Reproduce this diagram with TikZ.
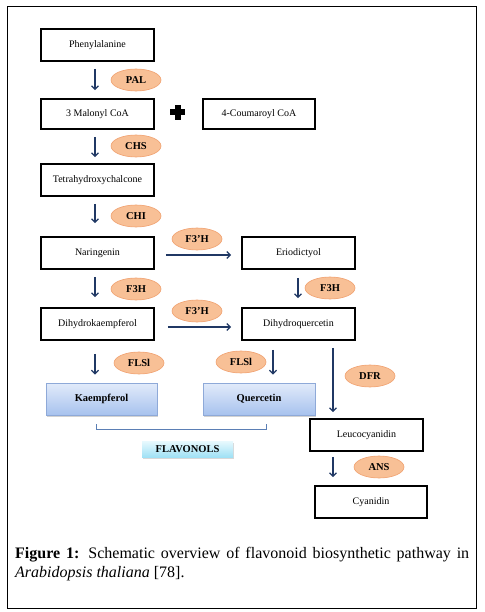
\documentclass[tikz,border=0pt]{standalone}
\usepackage{fontspec}
\setmainfont{Liberation Serif}
\usetikzlibrary{shapes.geometric,arrows.meta,shadows}
\definecolor{navy}{RGB}{32,56,100}
\definecolor{peach}{RGB}{248,192,150}
\definecolor{peachline}{RGB}{240,160,110}
\definecolor{kbtop}{RGB}{226,235,250}
\definecolor{kbbot}{RGB}{167,194,238}
\definecolor{kbline}{RGB}{142,169,216}
\definecolor{ftop}{RGB}{232,249,254}
\definecolor{fbot}{RGB}{160,225,245}
\definecolor{brk}{RGB}{91,127,181}
\tikzset{
  x=1pt, y=-1pt,
  box/.style={draw=black, line width=1.6pt, minimum width=113pt, minimum height=32pt, inner sep=0pt, font=\fontsize{10}{12}\selectfont},
  enz/.style={ellipse, draw=peachline, line width=0.6pt, fill=peach, minimum width=50pt, minimum height=22pt, inner sep=0pt, font=\fontsize{10.5}{12}\selectfont\bfseries},
  prod/.style={draw=kbline, line width=0.8pt, top color=kbtop, bottom color=kbbot, minimum width=111pt, minimum height=32pt, inner sep=0pt, font=\fontsize{10.5}{12}\selectfont\bfseries, drop shadow={shadow xshift=1pt, shadow yshift=-1.5pt, fill=black!35}},
  arr/.style={draw=navy, line width=1.5pt, -{Straight Barb[length=3.5pt,width=7pt,line width=1.3pt]}},
}
\begin{document}
\begin{tikzpicture}
\useasboundingbox (0,0) rectangle (484,612);
\draw[line width=1pt] (7,7) rectangle (476,608);

% boxes
\node[box] (phe) at (97.5,45) {Phenylalanine};
\node[box, minimum height=30pt] (mal) at (97.5,114) {3 Malonyl CoA};
\node[box, minimum width=112pt, minimum height=30pt, line width=1.2pt] (cou) at (259,114) {4-Coumaroyl CoA};
\node[box] (tet) at (97.5,180) {Tetrahydroxychalcone};
\node[box] (nar) at (97.5,253) {Naringenin};
\node[box] (eri) at (298.5,253) {Eriodictyol};
\node[box] (dhk) at (97.5,324) {Dihydrokaempferol};
\node[box] (dhq) at (298.5,324) {Dihydroquercetin};
\node[prod] (kae) at (101.5,399) {Kaempferol};
\node[prod, minimum width=112pt] (que) at (259,399) {Quercetin};
\node[box] (leu) at (366.5,435) {Leucocyanidin};
\node[box, minimum width=112pt] (cya) at (371,502) {Cyanidin};
\node[draw=none, top color=ftop, bottom color=fbot, minimum width=91pt, minimum height=16pt, inner sep=0pt, font=\fontsize{10.5}{12}\selectfont\bfseries, drop shadow={shadow xshift=1pt, shadow yshift=-1.5pt, fill=black!30}] (flav) at (187.5,449) {FLAVONOLS};

% plus sign
\fill (170,109.5) rectangle (185,115.5);
\fill (174.5,105) rectangle (180.5,120);

% enzymes
\node[enz] (pal) at (136,80) {PAL};
\node[enz] (chs) at (136,146) {CHS};
\node[enz] (chi) at (136,216) {CHI};
\node[enz] (f3ph1) at (197,239) {F3'H};
\node[enz] (f3hl) at (136,289) {F3H};
\node[enz] (f3hr) at (330,288) {F3H};
\node[enz] (f3ph2) at (197,311) {F3'H};
\node[enz] (flsl) at (139,363) {FLSl};
\node[enz] (flsr) at (241,362) {FLSl};
\node[enz] (dfr) at (370,376) {DFR};
\node[enz] (ans) at (379,467) {ANS};

% arrows
\draw[arr, shorten <=7pt, shorten >=8pt] ([xshift=-2.5pt]phe.south) -- ([xshift=-2.5pt]mal.north);
\draw[arr, shorten <=7pt, shorten >=6pt] ([xshift=-2.5pt]mal.south) -- ([xshift=-2.5pt]tet.north);
\draw[arr, shorten <=7pt, shorten >=13pt] ([xshift=-2.5pt]tet.south) -- ([xshift=-2.5pt]nar.north);
\draw[arr, shorten <=7pt, shorten >=10pt] ([xshift=-2.5pt]nar.south) -- ([xshift=-2.5pt]dhk.north);
\draw[arr, shorten <=11pt, shorten >=10pt] ([yshift=-2pt]nar.east) -- ([yshift=-2pt]eri.west);
\draw[arr, shorten <=13pt, shorten >=10pt] ([yshift=-3pt]dhk.east) -- ([yshift=-3pt]dhq.west);
\draw[arr, shorten <=8pt, shorten >=9pt] ([xshift=-0.5pt]eri.south) -- ([xshift=-0.5pt]dhq.north);
\draw[arr, shorten <=13pt, shorten >=8pt] ([xshift=-2.5pt]dhk.south) -- ([xshift=-2.5pt]dhk.south |- kae.north);
\draw[arr, shorten <=9pt, shorten >=8pt] ([xshift=-25.5pt]dhq.south) -- ([xshift=-25.5pt]dhq.south |- que.north);
\draw[arr, shorten <=7pt, shorten >=6pt] ([xshift=34.5pt]dhq.south) -- ([xshift=34.5pt]dhq.south |- leu.north);
\draw[arr, shorten <=5pt, shorten >=8pt] ([xshift=-33.5pt]leu.south) -- ([xshift=-33.5pt]leu.south |- cya.north);

% bracket
\draw[brk, line width=0.8pt] (96,424) -- (96,429) -- (266,429) -- (266,424);

% caption
\node[anchor=north west, inner sep=0pt, text width=454pt, align=justify, font=\fontsize{16}{19.5}\selectfont] (cap) at (15,547)
{\hyphenpenalty=10000 \textbf{Figure 1:} Schematic overview of flavonoid biosynthetic pathway in\linebreak \textit{Arabidopsis thaliana} [78].};
\end{tikzpicture}
\end{document}
